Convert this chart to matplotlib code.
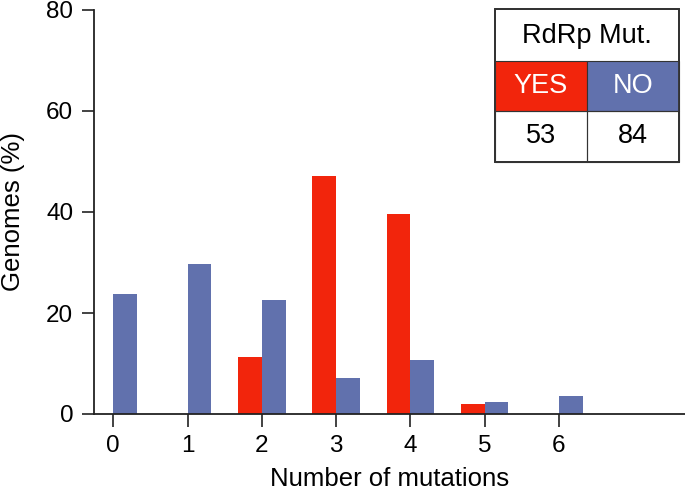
import matplotlib
matplotlib.use("Agg")
import matplotlib.pyplot as plt
from matplotlib.patches import Rectangle
import numpy as np

plt.rcParams['font.family'] = ['Liberation Sans', 'DejaVu Sans']

mutations = [0, 1, 2, 3, 4, 5, 6]
yes_pct = [0.0, 0.0, 11.3, 47.2, 39.6, 1.9, 0.0]
no_pct = [23.8, 29.8, 22.6, 7.1, 10.7, 2.4, 3.6]
yticks = [0, 20, 40, 60, 80]
table_header = "RdRp Mut."
table_groups = ["YES", "NO"]
table_counts = ["53", "84"]

RED = "#F2250C"
BLUE = "#6171AD"

W, H = 685, 493
fig = plt.figure(figsize=(W / 100, H / 100), dpi=100)
ax = fig.add_axes([94 / W, 1 - 414 / H, (W - 94) / W, (414 - 10) / H])

x = np.array(mutations, dtype=float)
bw = 0.32
ax.bar(x - bw, yes_pct, width=bw, align='edge', color=RED, linewidth=0)
ax.bar(x, no_pct, width=bw, align='edge', color=BLUE, linewidth=0)

ax.set_xlim(-0.26, 7.7)
ax.set_ylim(0, 80)
ax.set_xticks(mutations)
ax.set_xticklabels([str(m) for m in mutations])
ax.set_yticks(yticks)
ax.set_yticklabels([str(t) for t in yticks])
for s in ['top', 'right']:
    ax.spines[s].set_visible(False)
for s in ['left', 'bottom']:
    ax.spines[s].set_linewidth(1.3)
    ax.spines[s].set_color('#222222')
ax.tick_params(axis='both', direction='out', length=9, width=1.2, color='#222222',
               labelsize=17.5, pad=6)
ax.set_xlabel("Number of mutations", fontsize=18.5, labelpad=7)
ax.set_ylabel("Genomes (%)", fontsize=18.5, labelpad=15)

# Inset table drawn in figure pixel coordinates
def px(xp, yp):
    return xp / W, 1 - yp / H

tx0, tx1, tmid = 495, 679, 587
ty0, ty1, ty2, ty3 = 9, 61, 111, 162

def rect(x0, y0, x1, y1, fc, ec='#333333', lw=1.0):
    fx, fy = px(x0, y1)
    fig.patches.append(Rectangle((fx, fy), (x1 - x0) / W, (y1 - y0) / H,
                                 transform=fig.transFigure, facecolor=fc,
                                 edgecolor=ec, linewidth=lw, zorder=5))

rect(tx0, ty0, tx1, ty3, 'white', lw=1.3)
rect(tx0, ty1, tmid, ty2, RED, lw=0.8)
rect(tmid, ty1, tx1, ty2, BLUE, lw=0.8)
rect(tx0, ty2, tmid, ty3, 'none', lw=0.8)
rect(tmid, ty2, tx1, ty3, 'none', lw=0.8)
rect(tx0, ty0, tx1, ty3, 'none', lw=1.3)

fs_t = 19.5
fig.text(*px((tx0 + tx1) / 2, (ty0 + ty1) / 2 + 1), table_header, ha='center', va='center',
         fontsize=fs_t, zorder=6)
fig.text(*px((tx0 + tmid) / 2, (ty1 + ty2) / 2), table_groups[0], ha='center', va='center',
         fontsize=fs_t, color='white', zorder=6)
fig.text(*px((tmid + tx1) / 2, (ty1 + ty2) / 2), table_groups[1], ha='center', va='center',
         fontsize=fs_t, color='white', zorder=6)
fig.text(*px((tx0 + tmid) / 2, (ty2 + ty3) / 2), table_counts[0], ha='center', va='center',
         fontsize=fs_t, zorder=6)
fig.text(*px((tmid + tx1) / 2, (ty2 + ty3) / 2), table_counts[1], ha='center', va='center',
         fontsize=fs_t, zorder=6)

fig.savefig("out.png", dpi=100)
